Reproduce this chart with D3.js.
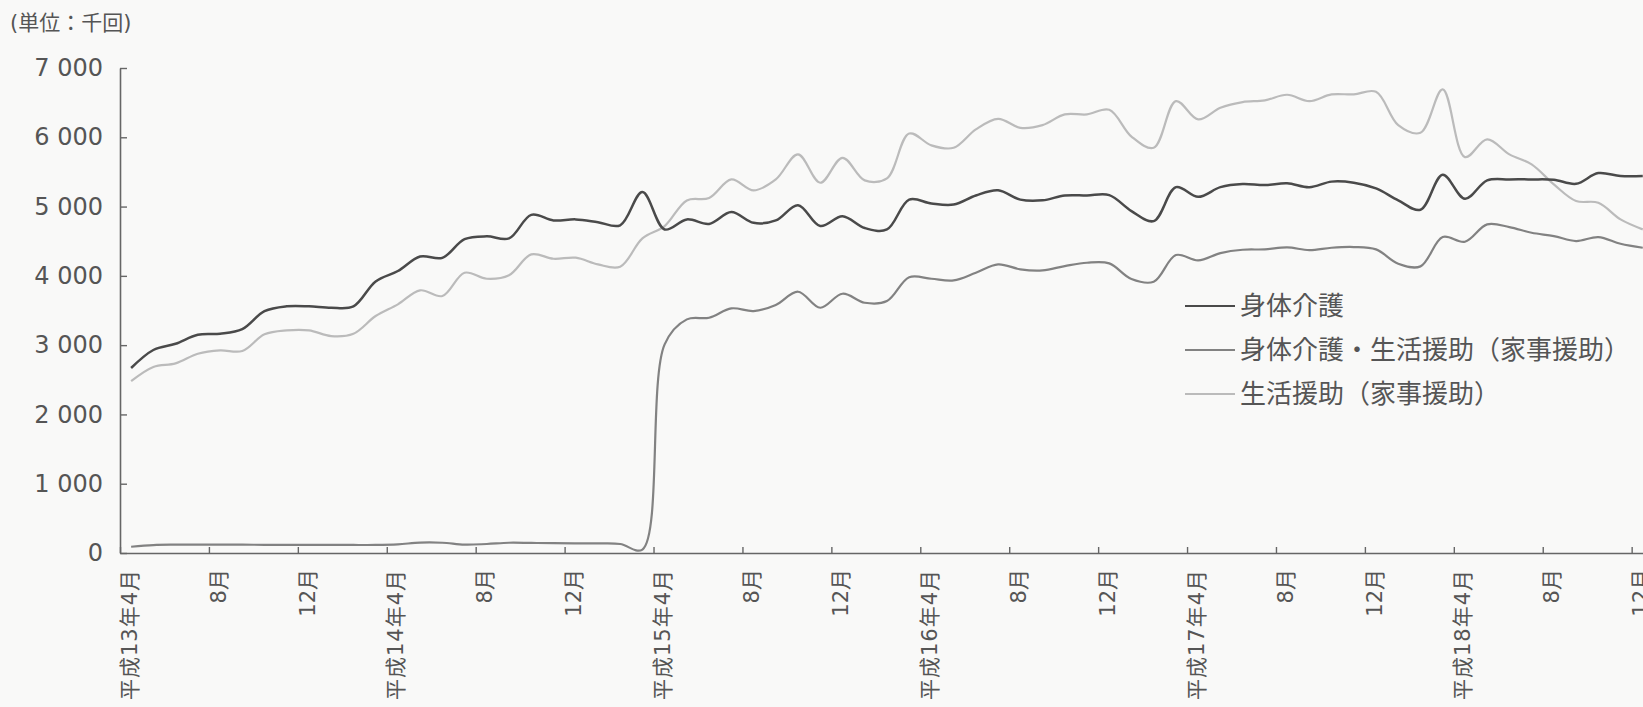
<!DOCTYPE html>
<html>
<head>
<meta charset="utf-8">
<script src="https://cdn.jsdelivr.net/npm/d3@7"></script>
<style>
  html, body { margin: 0; padding: 0; background: #f9f9f8; overflow: hidden; }
  svg { display: block; }
  text { font-family: "DejaVu Sans", "Noto Sans CJK JP", sans-serif; fill: #555; }
</style>
</head>
<body>
<svg id="chart" width="1643" height="707"></svg>
<script>
// monthly counts, 平成13年4月 .. 平成18年12月 (単位：千回)
const careValues = [
  2670, 2930, 3020, 3150, 3165, 3230, 3490, 3560, 3560, 3540, 3560, 3920,
  4070, 4280, 4260, 4530, 4570, 4540, 4880, 4800, 4815, 4775, 4730, 5210,
  4670, 4815, 4750, 4920, 4765, 4800, 5020, 4720, 4860, 4690, 4670, 5100,
  5045, 5030, 5160, 5235, 5100, 5090, 5160, 5160, 5165, 4935, 4790, 5280,
  5140, 5280, 5325, 5310, 5337, 5280, 5360, 5344, 5262, 5090, 4954, 5459,
  5113, 5378, 5392, 5392, 5387, 5329, 5483, 5440, 5440
]
const mixedValues = [
  90, 115, 120, 120, 120, 120, 118, 118, 118, 118, 116, 116,
  125, 150, 148, 120, 130, 148, 145, 142, 140, 138, 130, 50,
  3011, 3372, 3396, 3531, 3492, 3579, 3771, 3540, 3742, 3612, 3636, 3980,
  3958, 3935, 4045, 4166, 4094, 4079, 4141, 4189, 4180, 3954, 3915, 4300,
  4223, 4329, 4377, 4382, 4411, 4372, 4406, 4416, 4382, 4175, 4137, 4560,
  4492, 4743, 4704, 4622, 4574, 4502, 4560, 4463, 4406
]
const lifeValues = [
  2480, 2685, 2737, 2876, 2925, 2915, 3156, 3213, 3213, 3131, 3165, 3420,
  3589, 3791, 3709, 4045, 3958, 4010, 4310, 4247, 4262, 4166, 4132, 4541,
  4719, 5089, 5123, 5392, 5234, 5392, 5753, 5344, 5704, 5378, 5407, 6055,
  5883, 5848, 6114, 6267, 6137, 6176, 6330, 6330, 6397, 6010, 5848, 6522,
  6258, 6426, 6508, 6533, 6614, 6522, 6619, 6619, 6657, 6176, 6065, 6691,
  5714, 5970, 5753, 5609, 5320, 5080, 5055, 4815, 4671
]

const seriesNames = ["身体介護", "身体介護・生活援助（家事援助）", "生活援助（家事援助）"]
const seriesColors = ["#4a4a4a", "#828282", "#bbbbbb"]

// one label every 4 months
const tickLabels = [
  "平成13年4月", "8月", "12月",
  "平成14年4月", "8月", "12月",
  "平成15年4月", "8月", "12月",
  "平成16年4月", "8月", "12月",
  "平成17年4月", "8月", "12月",
  "平成18年4月", "8月", "12月"
]
const yTicks = [0, 1000, 2000, 3000, 4000, 5000, 6000, 7000]

const svg = d3.select("#chart")
const nMonths = careValues.length

const x = d3.scaleLinear().domain([0, nMonths + 0.5]).range([120, 1665])
const y = d3.scaleLinear().domain([0, 7000]).range([553, 68])

// unit
svg.append("text")
  .attr("x", 10).attr("y", 30)
  .attr("font-size", "21px")
  .text("(単位：千回)")

// y axis
const yAxis = svg.append("g")
  .attr("transform", `translate(${x(0)},0)`)
  .call(d3.axisLeft(y)
    .tickValues(yTicks)
    .tickSize(-7)
    .tickSizeOuter(0)
    .tickPadding(17)
    .tickFormat(d => d3.format(",")(d).replace(",", " ")))
yAxis.select(".domain").attr("stroke", "#666").attr("stroke-width", 1.6)
yAxis.selectAll(".tick line").attr("stroke", "#666").attr("stroke-width", 1.4)
yAxis.selectAll(".tick text")
  .attr("font-size", "24px")
  .attr("fill", "#555")
  .style("font-family", "DejaVu Sans, sans-serif")

// x axis: ticks at the start of every 4th month
const tickIdx = d3.range(0, nMonths, 4)
const xAxis = svg.append("g")
  .attr("transform", `translate(0,${y(0)})`)
  .call(d3.axisBottom(x)
    .tickValues(tickIdx)
    .tickSize(-6)
    .tickSizeOuter(0)
    .tickFormat(""))
xAxis.select(".domain").attr("stroke", "#666").attr("stroke-width", 1.6)
xAxis.selectAll(".tick line").attr("stroke", "#666").attr("stroke-width", 1.4)

svg.append("g")
  .selectAll("text")
  .data(tickLabels)
  .join("text")
  .attr("transform", (d, i) => `translate(${x(tickIdx[i] + 0.5) - 2},569) rotate(-90)`)
  .attr("text-anchor", "end")
  .attr("dy", "0.36em")
  .attr("font-size", "21px")
  .attr("letter-spacing", d => d.length > 3 ? "1px" : "0px")
  .text(d => d)

// lines
const line = d3.line()
  .x((d, i) => x(i + 0.5))
  .y(d => y(d))
  .curve(d3.curveCatmullRom.alpha(0.5))

const allSeries = [careValues, mixedValues, lifeValues]
const widths = [2.5, 2.2, 2.2]
// draw lightest first so the darker ones sit on top
;[2, 1, 0].forEach(k => {
  svg.append("path")
    .datum(allSeries[k])
    .attr("fill", "none")
    .attr("stroke", seriesColors[k])
    .attr("stroke-width", widths[k])
    .attr("stroke-linejoin", "round")
    .attr("d", line)
})

// legend
const legend = svg.append("g").attr("transform", "translate(1185,306)")
seriesNames.forEach((name, k) => {
  const row = legend.append("g").attr("transform", `translate(0,${k * 44})`)
  row.append("line")
    .attr("x1", 0).attr("x2", 50)
    .attr("stroke", seriesColors[k])
    .attr("stroke-width", 2)
  row.append("text")
    .attr("x", 55).attr("dy", "0.36em")
    .attr("font-size", "26px")
    .attr("fill", "#555")
    .text(name)
})
</script>
</body>
</html>
